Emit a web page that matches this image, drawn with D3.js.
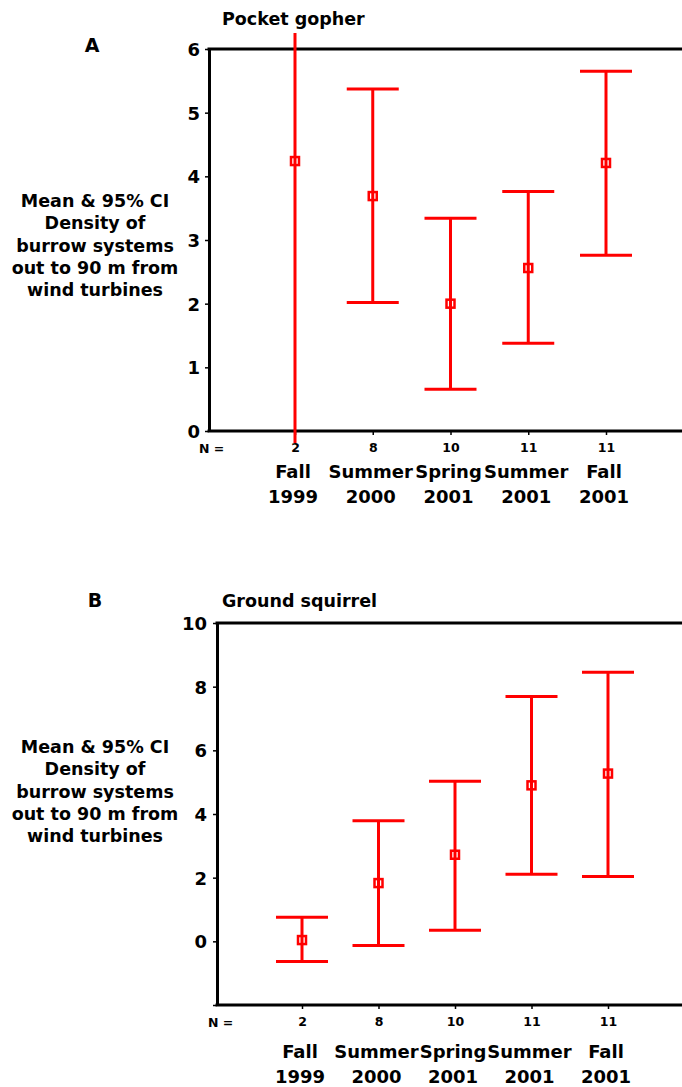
<!DOCTYPE html>
<html>
<head>
<meta charset="utf-8">
<script src="https://cdn.jsdelivr.net/npm/d3@7"></script>
<style>
  body { margin: 0; background: #fff; }
  svg { display: block; font-family: "DejaVu Sans", Verdana, sans-serif; font-weight: bold; }
</style>
</head>
<body>
<div id="chart"></div>
<script>
const seasons = [["Fall", "1999"], ["Summer", "2000"], ["Spring", "2001"], ["Summer", "2001"], ["Fall", "2001"]];
const sampleN = [2, 8, 10, 11, 11];
const yTitle = ["Mean & 95% CI", "Density of", "burrow systems", "out to 90 m from", "wind turbines"];

// Pocket gopher
const gopherMean = [4.24, 3.69, 2.0, 2.56, 4.21];
const gopherLow = [-0.19, 2.02, 0.655, 1.38, 2.76];
const gopherHigh = [6.25, 5.37, 3.34, 3.76, 5.65];
const gopherTicks = [0, 1, 2, 3, 4, 5, 6];

// Ground squirrel
const squirrelMean = [0.04, 1.83, 2.72, 4.9, 5.27];
const squirrelLow = [-0.63, -0.13, 0.35, 2.11, 2.04];
const squirrelHigh = [0.76, 3.79, 5.03, 7.69, 8.45];
const squirrelTicks = [-2, 0, 2, 4, 6, 8, 10];

const width = 682, height = 1087;
const red = "#ff0000";
const font = "'DejaVu Sans', Verdana, sans-serif";

const svg = d3.select("#chart").append("svg")
    .attr("width", width)
    .attr("height", height);

function panel(opt) {
    const g = svg.append("g");
    const keys = seasons.map((d, i) => i);

    const x = d3.scalePoint()
        .domain(keys)
        .range([opt.xFirst, opt.xLast]);

    const y = d3.scaleLinear()
        .domain(opt.domain)
        .range([opt.bottom, opt.top]);

    // Letter and title
    g.append("text")
        .attr("x", opt.letterX)
        .attr("y", opt.letterY)
        .attr("text-anchor", "middle")
        .style("font-size", "19px")
        .text(opt.letter);

    g.append("text")
        .attr("x", 222)
        .attr("y", opt.titleY)
        .style("font-size", "17.5px")
        .text(opt.title);

    // Y title
    g.append("text")
        .attr("text-anchor", "middle")
        .style("font-size", "17.5px")
        .selectAll("tspan")
        .data(yTitle)
        .enter()
        .append("tspan")
        .attr("x", 95)
        .attr("y", (d, i) => opt.yTitleY + i * 22.3)
        .text(d => d);

    // Y axis
    const yAxis = g.append("g")
        .attr("transform", `translate(${opt.axisX},0)`)
        .call(d3.axisLeft(y)
            .tickValues(opt.ticks)
            .tickSize(4)
            .tickSizeOuter(0)
            .tickPadding(opt.tickPad)
            .tickFormat(d => d < 0 ? "" : d));
    yAxis.select(".domain").attr("stroke-width", 3);
    yAxis.selectAll(".tick line").attr("stroke-width", 1.5);
    yAxis.selectAll("text")
        .attr("fill", "#000")
        .attr("dy", "0.36em")
        .style("font-size", "18px")
        .style("font-family", font)
        .style("font-weight", "bold");

    // Top border
    g.append("line")
        .attr("x1", opt.axisX - 1.5)
        .attr("x2", width)
        .attr("y1", y(opt.domain[1]))
        .attr("y2", y(opt.domain[1]))
        .attr("stroke", "#000")
        .attr("stroke-width", 3);

    // X axis, tick labels are the sample sizes
    const xAxis = g.append("g")
        .attr("transform", `translate(0,${opt.bottom})`)
        .call(d3.axisBottom(x)
            .tickSize(4)
            .tickSizeOuter(0)
            .tickPadding(8)
            .tickFormat(i => sampleN[i]));
    xAxis.select(".domain")
        .attr("d", `M${opt.axisX - 1.5},0H${width}`)
        .attr("stroke-width", 3);
    xAxis.selectAll(".tick line").attr("stroke-width", 1.5);
    xAxis.selectAll("text")
        .attr("fill", "#000")
        .style("font-size", "12.5px")
        .style("font-family", font)
        .style("font-weight", "bold");

    g.append("text")
        .attr("x", opt.nX)
        .attr("y", opt.nY)
        .style("font-size", "12.5px")
        .text("N =");

    // Season labels
    const lab = g.selectAll(".season")
        .data(seasons)
        .enter()
        .append("text")
        .attr("class", "season")
        .attr("text-anchor", "middle")
        .style("font-size", "18px");
    lab.append("tspan")
        .attr("x", (d, i) => x(i) - 2)
        .attr("y", opt.seasonY)
        .text(d => d[0]);
    lab.append("tspan")
        .attr("x", (d, i) => x(i) - 2)
        .attr("y", opt.seasonY + 24.5)
        .text(d => d[1]);

    // Error bars
    const bars = g.selectAll(".bar")
        .data(keys)
        .enter()
        .append("g")
        .attr("class", "bar");

    bars.append("line")
        .attr("x1", i => x(i))
        .attr("x2", i => x(i))
        .attr("y1", i => y(opt.low[i]))
        .attr("y2", i => y(opt.high[i]))
        .attr("stroke", red)
        .attr("stroke-width", 3);

    const inRange = v => v >= opt.domain[0] && v <= opt.domain[1];
    [opt.low, opt.high].forEach(arr => {
        bars.filter(i => inRange(arr[i]))
            .append("line")
            .attr("x1", i => x(i) - 26)
            .attr("x2", i => x(i) + 26)
            .attr("y1", i => y(arr[i]))
            .attr("y2", i => y(arr[i]))
            .attr("stroke", red)
            .attr("stroke-width", 3);
    });

    bars.append("rect")
        .attr("x", i => x(i) - 4)
        .attr("y", i => y(opt.mean[i]) - 4)
        .attr("width", 8)
        .attr("height", 8)
        .attr("fill", "none")
        .attr("stroke", red)
        .attr("stroke-width", 2.5);
}

panel({
    letter: "A", letterX: 92, letterY: 52,
    title: "Pocket gopher", titleY: 25,
    yTitleY: 207,
    domain: [0, 6], ticks: gopherTicks,
    top: 49, bottom: 431, axisX: 209, tickPad: 5,
    xFirst: 295, xLast: 606,
    nX: 199, nY: 453, seasonY: 478,
    mean: gopherMean, low: gopherLow, high: gopherHigh
});

panel({
    letter: "B", letterX: 95, letterY: 607,
    title: "Ground squirrel", titleY: 607,
    yTitleY: 753,
    domain: [-2, 10], ticks: squirrelTicks,
    top: 623, bottom: 1005, axisX: 217, tickPad: 6,
    xFirst: 302, xLast: 608,
    nX: 208, nY: 1027, seasonY: 1058,
    mean: squirrelMean, low: squirrelLow, high: squirrelHigh
});
</script>
</body>
</html>
